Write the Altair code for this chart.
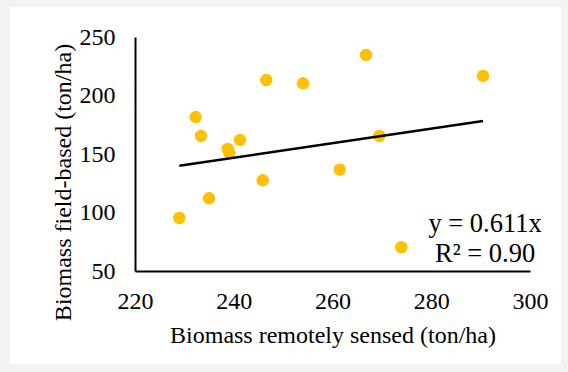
import altair as alt
import pandas as pd

# Scatter data
remote = [228.97, 232.29, 233.37, 234.99, 238.77, 239.10, 241.27, 245.86,
          246.59, 254.03, 261.46, 266.78, 269.48, 273.93, 290.48]
field = [95.3, 181.6, 165.4, 112.1, 154.3, 151.1, 162.0, 127.5,
         213.2, 210.4, 136.6, 234.6, 165.4, 70.3, 216.7]

# Trend line end points
trend_x = [228.97, 290.5]
trend_y = [140.0, 178.2]

# Equation annotation
eq_labels = ["y = 0.611x", "R\u00b2 = 0.90"]
eq_x = [290.9, 290.9]
eq_y = [83.6, 58.0]

pts = pd.DataFrame({"x": remote, "y": field})
trend = pd.DataFrame({"x": trend_x, "y": trend_y})
eq = pd.DataFrame({"label": eq_labels, "x": eq_x, "y": eq_y})

FONT = "Liberation Serif, serif"
W, H = 395, 234

xscale = alt.Scale(domain=[220, 300], nice=False, zero=False)
yscale = alt.Scale(domain=[50, 250], nice=False, zero=False)

panel = alt.Chart(pd.DataFrame({"a": [0]})).mark_rect(color="white").encode(
    x=alt.value(-125), x2=alt.value(426), y=alt.value(-30), y2=alt.value(327)
)

xaxis = alt.Axis(title="Biomass remotely sensed (ton/ha)",
                 values=[220, 240, 260, 280, 300], labelPadding=18,
                 titleBaseline="alphabetic", titleY=71, zindex=1,
                 labelFont=FONT, titleFont=FONT, labelFontSize=24, titleFontSize=24)
yaxis = alt.Axis(title="Biomass field-based (ton/ha)",
                 values=[50, 100, 150, 200, 250], labelPadding=20,
                 titleBaseline="alphabetic", titleX=-65, titleY=145, titleAngle=270,
                 zindex=1, labelFont=FONT, titleFont=FONT, labelFontSize=24,
                 titleFontSize=24)

points = alt.Chart(pts).mark_circle(size=155, opacity=1, color="#FFC000").encode(
    x=alt.X("x:Q", scale=xscale, axis=xaxis),
    y=alt.Y("y:Q", scale=yscale, axis=yaxis),
)

line = alt.Chart(trend).mark_line(color="black", strokeWidth=2.5).encode(
    x=alt.X("x:Q", scale=xscale, axis=xaxis), y=alt.Y("y:Q", scale=yscale, axis=yaxis)
)

text = alt.Chart(eq).mark_text(font=FONT, fontSize=26.5, color="black",
                               align="center", baseline="alphabetic").encode(
    x=alt.X("x:Q", scale=xscale, axis=xaxis), y=alt.Y("y:Q", scale=yscale, axis=yaxis),
    text="label:N"
)

chart = alt.layer(panel, points, line, text).properties(
    width=W, height=H,
    background="#f2f2f2",
    padding={"left": 135, "top": 37, "right": 38, "bottom": 101},
    autosize=alt.AutoSizeParams(type="none"),
).configure(font=FONT).configure_view(stroke=None).configure_axis(
    grid=False, ticks=False, labelFont=FONT, labelFontSize=24, labelColor="black",
    titleFont=FONT, titleFontSize=24, titleFontWeight="normal", titleColor="black",
    domainColor="black", domainWidth=2, labelFlush=False,
)

chart.save("out.html", embed_options={"renderer": "svg", "actions": False})
